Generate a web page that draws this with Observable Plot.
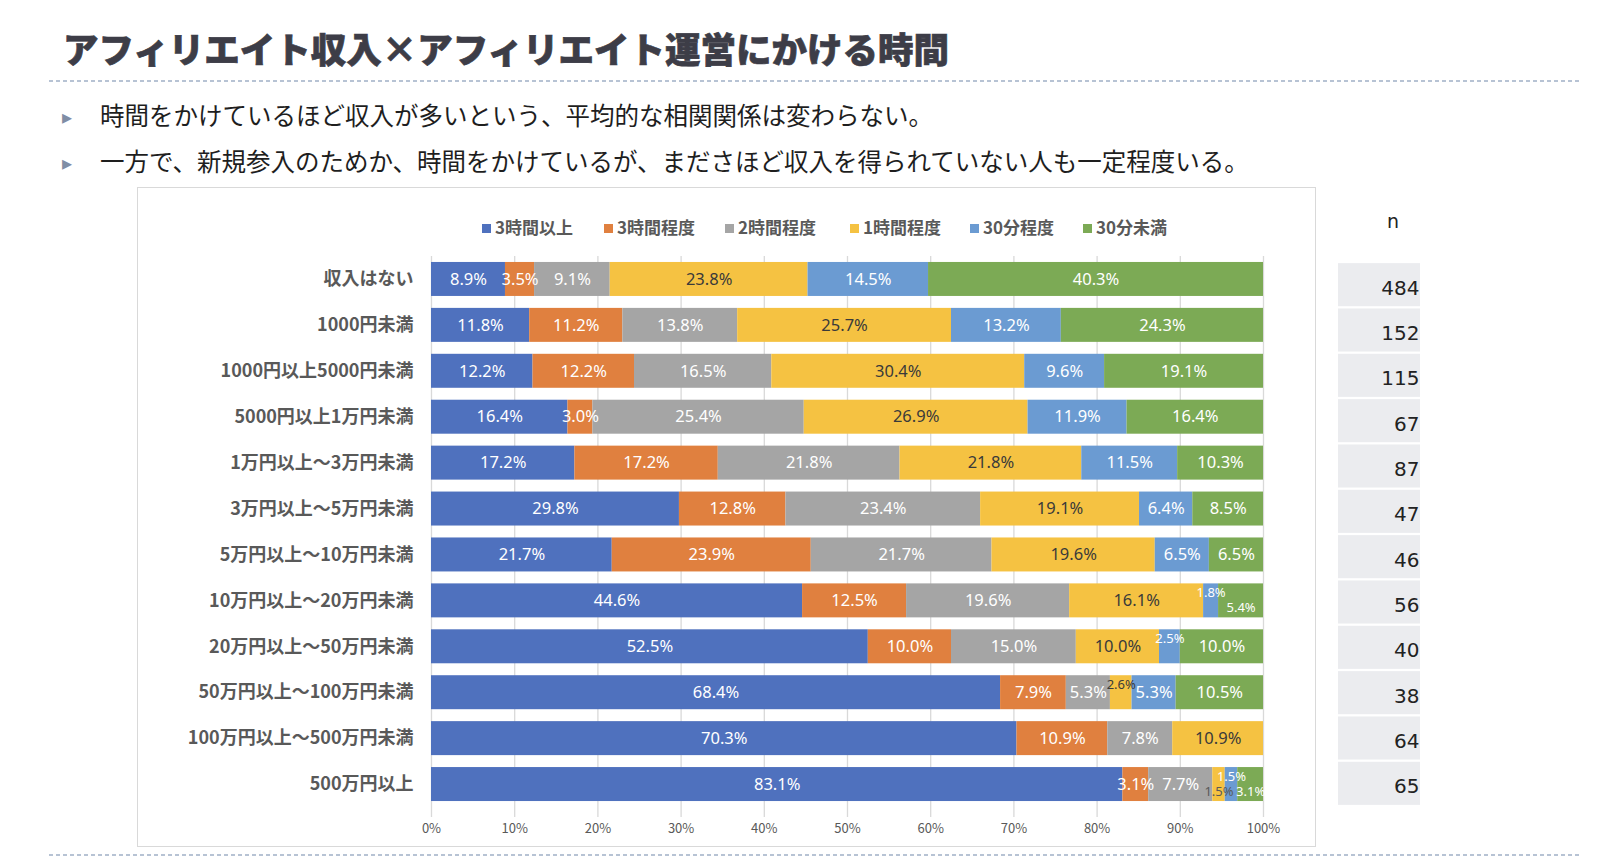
<!DOCTYPE html>
<html lang="ja">
<head>
<meta charset="utf-8">
<script src="https://cdn.jsdelivr.net/npm/d3@7"></script>
<script src="https://cdn.jsdelivr.net/npm/@observablehq/plot@0.6"></script>
<style>
  html, body { margin: 0; padding: 0; background: #fff; }
  body { width: 1600px; height: 864px; position: relative; overflow: hidden; font-family: "Noto Sans CJK JP", "Noto Sans", sans-serif; }
  .abs { position: absolute; }
  .title { left: 63px; top: 30px; font-size: 35.5px; font-weight: 900; line-height: 1; color: #3d3d47; -webkit-text-stroke: 0.7px #3d3d47; white-space: nowrap; }
  .dots { height: 2px; background: repeating-linear-gradient(to right, #b7c3d4 0 4px, transparent 4px 7px); }
  .bullet { left: 60px; font-size: 24.5px; line-height: 1; color: #1e1e1e; white-space: nowrap; }
  .bullet .mk { display: inline-block; width: 40px; color: #7f8ea5; font-size: 20px; vertical-align: 1px; padding-left: 2px; box-sizing: border-box; }
  .box { left: 137px; top: 187px; width: 1179px; height: 660px; border: 1px solid #d9d9d9; box-sizing: border-box; }
  .legend { top: 215px; height: 24px; font-size: 17px; font-weight: 700; color: #595959; white-space: nowrap; line-height: 24px; }
  .legend .sw { display: inline-block; width: 9px; height: 9px; margin-right: 4px; vertical-align: 1px; }
  .nhead { left: 1387px; top: 212px; font-family: "DejaVu Sans", sans-serif; font-size: 19px; color: #222; line-height: 1; }
</style>
</head>
<body>
<script>
// ---------- data ----------
const categories = [
  "収入はない", "1000円未満", "1000円以上5000円未満", "5000円以上1万円未満",
  "1万円以上～3万円未満", "3万円以上～5万円未満", "5万円以上～10万円未満",
  "10万円以上～20万円未満", "20万円以上～50万円未満", "50万円以上～100万円未満",
  "100万円以上～500万円未満", "500万円以上"
];
const seriesNames = ["3時間以上", "3時間程度", "2時間程度", "1時間程度", "30分程度", "30分未満"];
const over3h   = [8.9, 11.8, 12.2, 16.4, 17.2, 29.8, 21.7, 44.6, 52.5, 68.4, 70.3, 83.1];
const about3h  = [3.5, 11.2, 12.2, 3.0, 17.2, 12.8, 23.9, 12.5, 10.0, 7.9, 10.9, 3.1];
const about2h  = [9.1, 13.8, 16.5, 25.4, 21.8, 23.4, 21.7, 19.6, 15.0, 5.3, 7.8, 7.7];
const about1h  = [23.8, 25.7, 30.4, 26.9, 21.8, 19.1, 19.6, 16.1, 10.0, 2.6, 10.9, 1.5];
const about30m = [14.5, 13.2, 9.6, 11.9, 11.5, 6.4, 6.5, 1.8, 2.5, 5.3, 0, 1.5];
const under30m = [40.3, 24.3, 19.1, 16.4, 10.3, 8.5, 6.5, 5.4, 10.0, 10.5, 0, 3.1];
const nValues  = [484, 152, 115, 67, 87, 47, 46, 56, 40, 38, 64, 65];
const xTicks   = [0, 0.1, 0.2, 0.3, 0.4, 0.5, 0.6, 0.7, 0.8, 0.9, 1.0];
const titleText = "アフィリエイト収入×アフィリエイト運営にかける時間";
const bulletTexts = [
  "時間をかけているほど収入が多いという、平均的な相関関係は変わらない。",
  "一方で、新規参入のためか、時間をかけているが、まださほど収入を得られていない人も一定程度いる。"
];
const nHeader = "n";

// ---------- styling ----------
const seriesColors = ["#4f71be", "#e0803f", "#a5a5a5", "#f5c242", "#6b9bd2", "#7caa55"];
const darkSeries = "1時間程度";
const smallUp = new Set([
  "10万円以上～20万円未満|30分程度", "20万円以上～50万円未満|30分程度",
  "50万円以上～100万円未満|1時間程度", "500万円以上|30分程度"
]);
const smallDown = new Set([
  "10万円以上～20万円未満|30分未満", "500万円以上|1時間程度", "500万円以上|30分未満"
]);

// ---------- table ----------
const seriesValues = [over3h, about3h, about2h, about1h, about30m, under30m];
const table = [];
categories.forEach((c, i) => {
  seriesNames.forEach((s, j) => {
    table.push({cat: c, series: s, value: seriesValues[j][i]});
  });
});
const nTable = categories.map((c, i) => ({cat: c, n: nValues[i]}));
const keyOf = d => d.cat + "|" + d.series;
const groupOf = d => smallUp.has(keyOf(d)) ? "up" : smallDown.has(keyOf(d)) ? "down" : "mid";
const fmt = v => v.toFixed(1) + "%";

// ---------- page text ----------
function addDiv(cls, style, html) {
  const el = document.createElement("div");
  el.className = "abs " + cls;
  if (style) el.setAttribute("style", style);
  if (html != null) el.innerHTML = html;
  document.body.appendChild(el);
  return el;
}
addDiv("title", null, titleText);
addDiv("dots", "left:49px;top:80px;width:1531px;");
bulletTexts.forEach((t, i) => {
  addDiv("bullet", `top:${103 + i * 46}px;`, `<span class="mk">&#9656;</span>${t}`);
});
addDiv("box");
addDiv("dots", "left:49px;top:854px;width:1531px;");
addDiv("nhead", null, nHeader);

// legend
const legendX = [482, 604, 725, 850, 970, 1083];
seriesNames.forEach((s, j) => {
  addDiv("legend", `left:${legendX[j]}px;`, `<span class="sw" style="background:${seriesColors[j]}"></span>${s}`);
});

// ---------- main chart ----------
const stackOpts = extra => Plot.stackX({
  x: "value", y: "cat", z: "series", offset: "normalize", order: seriesNames, ...extra
});
function labelMark(group, dark, dy, size, fill) {
  return Plot.text(table, stackOpts({
    text: d => (d.value > 0 && groupOf(d) === group && (d.series === darkSeries) === dark) ? fmt(d.value) : "",
    fill, fontSize: size, dy, fontFamily: "Noto Sans, sans-serif"
  }));
}

const chart = Plot.plot({
  width: 1179,
  height: 602,
  marginLeft: 294,
  marginRight: 53,
  marginTop: 16,
  marginBottom: 35,
  style: {fontFamily: "Noto Sans CJK JP, sans-serif", background: "transparent", overflow: "visible"},
  x: {domain: [0, 1], ticks: xTicks, tickFormat: d3.format(".0%"), axis: null},
  y: {domain: categories, paddingInner: 0.26, paddingOuter: 0.13, round: false, axis: null},
  color: {domain: seriesNames, range: seriesColors},
  marks: [
    Plot.ruleX(xTicks, {stroke: "#d9d9d9", strokeWidth: 1.3, insetBottom: -10}),
    Plot.barX(table, stackOpts({fill: "series"})),
    labelMark("mid", false, 0, 16.5, "white"),
    labelMark("mid", true, 0, 16.5, "#3a3a3a"),
    labelMark("up", false, -8, 13, "white"),
    labelMark("up", true, -8, 13, "#3a3a3a"),
    labelMark("down", false, 7, 13, "white"),
    labelMark("down", true, 7, 13, "#595959"),
    Plot.axisY({tickSize: 0, tickPadding: 18, fontSize: 18, fontWeight: 700, fill: "#595959", label: null}),
    Plot.axisX({ticks: xTicks, tickFormat: d3.format(".0%"), tickSize: 0, tickPadding: 16, fontSize: 13, fill: "#595959", label: null})
  ]
});
chart.style.position = "absolute";
chart.style.left = "137px";
chart.style.top = "240px";
document.body.appendChild(chart);

// ---------- n column ----------
const nChart = Plot.plot({
  width: 82,
  height: 602,
  marginLeft: 0,
  marginRight: 0,
  marginTop: 22,
  marginBottom: 36,
  style: {fontFamily: "DejaVu Sans, sans-serif", background: "transparent", overflow: "visible"},
  x: {axis: null},
  y: {domain: categories, paddingInner: 0.05, paddingOuter: 0.025, round: false, axis: null},
  marks: [
    Plot.cell(nTable, {y: "cat", fill: "#ebecef"}),
    Plot.text(nTable, {y: "cat", text: d => String(d.n), frameAnchor: "right", dx: -1, dy: 3, fontSize: 20, fill: "#222"})
  ]
});
nChart.style.position = "absolute";
nChart.style.left = "1338px";
nChart.style.top = "240px";
document.body.appendChild(nChart);
</script>
</body>
</html>
